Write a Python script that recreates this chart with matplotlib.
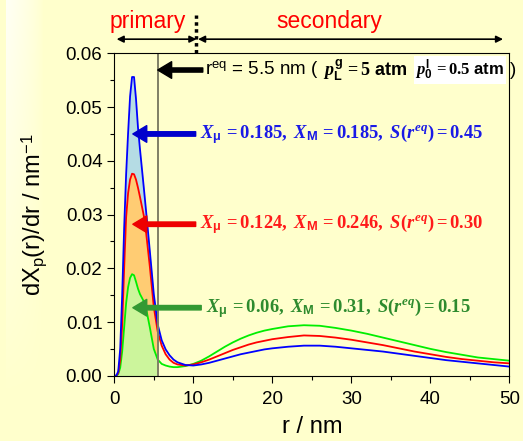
import numpy as np
import matplotlib
matplotlib.use("Agg")
import matplotlib.pyplot as plt
from matplotlib.ticker import MultipleLocator, FormatStrFormatter

# ---------------------------------------------------------------
# pore size distributions dX_p(r)/dr for three pressure cases
# ---------------------------------------------------------------
r_nm = [0, 0.25, 0.5, 0.75, 1.0, 1.25, 1.5, 1.75, 2.0, 2.25, 2.5, 2.75,
        3.0, 3.25, 3.5, 3.75, 4.0, 4.5, 5.0, 5.5, 6.0, 6.5, 7.0, 7.5, 8.0,
        9.0, 10, 11, 12, 13, 14, 15, 16, 17, 18, 19, 20, 22, 24, 26, 28,
        30, 32, 34, 36, 38, 40, 42, 44, 46, 48, 50]

dist_blue = [0, 0, 0.0008, 0.0050, 0.0150, 0.0275, 0.0375, 0.0452, 0.0520,
             0.0556, 0.0556, 0.0515, 0.0462, 0.0422, 0.0385, 0.0348, 0.0310,
             0.0232, 0.0152, 0.0095, 0.0066, 0.0049, 0.0038, 0.0030, 0.0025,
             0.0020, 0.0019, 0.0021, 0.0024, 0.0028, 0.0032, 0.0036, 0.0040,
             0.0043, 0.0046, 0.0049, 0.0051, 0.0054, 0.0056, 0.0056, 0.0054,
             0.0051, 0.0048, 0.0045, 0.0041, 0.0037, 0.0033, 0.0029, 0.0026,
             0.0023, 0.0020, 0.0017]

dist_red = [0, 0, 0.0005, 0.0030, 0.0095, 0.0200, 0.0295, 0.0340, 0.0365,
            0.0376, 0.0375, 0.0365, 0.0350, 0.0333, 0.0315, 0.0297, 0.0270,
            0.0203, 0.0128, 0.0082, 0.0056, 0.0040, 0.0030, 0.0024, 0.0021,
            0.0019, 0.0021, 0.0025, 0.0030, 0.0036, 0.0042, 0.0048, 0.0053,
            0.0058, 0.0062, 0.0065, 0.0068, 0.0072, 0.0075, 0.0074, 0.0071,
            0.0067, 0.0062, 0.0057, 0.0051, 0.0045, 0.0040, 0.0035, 0.0031,
            0.0028, 0.0025, 0.0023]

dist_green = [0, 0, 0.0003, 0.0015, 0.0045, 0.0090, 0.0135, 0.0165, 0.0182,
              0.0189, 0.0187, 0.0175, 0.0162, 0.0152, 0.0145, 0.0138, 0.0127,
              0.0090, 0.0050, 0.0030, 0.0022, 0.0019, 0.0017, 0.0016, 0.0016,
              0.0018, 0.0022, 0.0028, 0.0036, 0.0045, 0.0054, 0.0062, 0.0069,
              0.0075, 0.0080, 0.0084, 0.0087, 0.0092, 0.0094, 0.0093, 0.0089,
              0.0084, 0.0078, 0.0071, 0.0064, 0.0057, 0.0050, 0.0044, 0.0039,
              0.0034, 0.0031, 0.0028]

r_eq = 5.5
r_split = 10.4

labels = [
    r"$X_{\mathbf{\mu}}\mathrm{\,=0.185,\ }X_{\mathbf{M}}\mathrm{\,=0.185,\ }S\mathrm{(}r^{eq}\mathrm{)=0.45}$",
    r"$X_{\mathbf{\mu}}\mathrm{\,=0.124,\ }X_{\mathbf{M}}\mathrm{\,=0.246,\ }S\mathrm{(}r^{eq}\mathrm{)=0.30}$",
    r"$X_{\mathbf{\mu}}\mathrm{\,=0.06,\ }X_{\mathbf{M}}\mathrm{\,=0.31,\ }S\mathrm{(}r^{eq}\mathrm{)=0.15}$",
]

# ---------------------------------------------------------------
# fonts
# ---------------------------------------------------------------
plt.rcParams["font.family"] = ["Liberation Sans", "DejaVu Sans"]
plt.rcParams["mathtext.fontset"] = "custom"
plt.rcParams["mathtext.rm"] = "Liberation Serif:bold"
plt.rcParams["mathtext.it"] = "Liberation Serif:italic:bold"
plt.rcParams["mathtext.bf"] = "Liberation Sans:bold"
plt.rcParams["mathtext.sf"] = "Liberation Sans"

bg = "#FFFFCC"
fig = plt.figure(figsize=(5.23, 4.41), dpi=100, facecolor=bg)

# pale fade on the left border, whitest at the top
grad = fig.add_axes([6 / 523, 0, 38 / 523, 1], zorder=-5)
gy, gx = np.mgrid[0:1:200j, 0:1:40j]   # gy = 0 at the top row
alpha = np.clip(1.0 - 1.1 * gy, 0, 1) * np.clip(1 - gx, 0, 1) ** 0.7
img = np.ones((200, 40, 4))
img[..., 3] = alpha * 0.8
grad.imshow(img, aspect="auto", origin="upper", extent=[0, 1, 0, 1])
grad.axis("off")

ax = fig.add_axes([0.2185, 0.148, 0.7555, 0.731])
ax.set_facecolor(bg)

r = np.array(r_nm)
b = np.array(dist_blue)
rd = np.array(dist_red)
g = np.array(dist_green)
m = r <= r_eq

# shaded primary region
ax.fill_between(r[m], rd[m], b[m], color="#B5DCE4", lw=0)
ax.fill_between(r[m], g[m], rd[m], color="#FFCC73", lw=0)
ax.fill_between(r[m], 0, g[m], color="#CCF59C", lw=0)

ax.plot(r, g, color="#00EE00", lw=1.3)
ax.plot(r, rd, color="#FF0000", lw=1.3)
ax.plot(r, b, color="#0000FF", lw=1.3)

ax.axvline(r_eq, color="#7F7F66", lw=1.4)

ax.set_xlim(0, 50)
ax.set_ylim(0, 0.06)
ax.xaxis.set_major_locator(MultipleLocator(10))
ax.xaxis.set_minor_locator(MultipleLocator(5))
ax.yaxis.set_major_locator(MultipleLocator(0.01))
ax.yaxis.set_minor_locator(MultipleLocator(0.005))
ax.yaxis.set_major_formatter(FormatStrFormatter("%.2f"))
ax.tick_params(which="major", direction="out", length=5, width=0.8, labelsize=13.5)
ax.tick_params(axis="x", which="major", pad=6)
ax.tick_params(which="minor", direction="out", length=3, width=0.8)
for s in ax.spines.values():
    s.set_linewidth(0.8)

ax.set_xlabel("r / nm", fontsize=17, labelpad=6)
ax.set_ylabel(r"dX$_\mathsf{p}$(r)/dr / nm$^\mathsf{-1}$", fontsize=17, labelpad=12)

# arrows pointing at the peaks, with their labels
arrow_specs = [
    (0.0450, 10.3, "#0000CC", "#1A1AE6", 10.8),
    (0.0282, 10.3, "#EE0000", "#FF1A1A", 10.8),
    (0.01266, 11.0, "#339933", "#2E8B2E", 11.6),
]
for (yv, x_tail, ac, tc, x_txt), lab in zip(arrow_specs, labels):
    ax.annotate("", xy=(2.35, yv), xytext=(x_tail, yv),
                arrowprops=dict(facecolor=ac, edgecolor=ac, width=3.2,
                                headwidth=12, headlength=10, shrink=0))
    ax.text(x_txt, yv, lab, color=tc, fontsize=13.3, va="center", ha="left")

# r_eq pointer and pressure note
ax.annotate("", xy=(r_eq, 0.0569), xytext=(11.2, 0.0569),
            arrowprops=dict(facecolor="black", edgecolor="black", width=3,
                            headwidth=12, headlength=10, shrink=0))
ax.text(11.5, 0.0569, r"r$^\mathsf{eq}$ = 5.5 nm (", fontsize=13.5, va="center")
ax.text(26.4, 0.0569, r"$p_{\mathbf{L}}^{\mathbf{g}}\mathrm{\,=5}$ $\mathbf{atm}$",
        fontsize=13, va="center")
ax.text(38.1, 0.0569, r"$p_{\mathbf{0}}^{\mathbf{l}}\mathrm{\,=0.5}$ $\mathbf{atm}$",
        fontsize=12, va="center",
        bbox=dict(facecolor="white", edgecolor="none", pad=1.2))
ax.text(50.1, 0.0569, ")", fontsize=13.5, va="center", clip_on=False)

# primary / secondary regions above the frame
y_arr = 0.06264
ax.annotate("", xy=(0.3, y_arr), xytext=(r_split, y_arr), annotation_clip=False,
            arrowprops=dict(arrowstyle="<|-|>", color="black", lw=1.2,
                            mutation_scale=10, shrinkA=0, shrinkB=0))
ax.annotate("", xy=(r_split + 0.2, y_arr), xytext=(49.2, y_arr), annotation_clip=False,
            arrowprops=dict(arrowstyle="<|-|>", color="black", lw=1.2,
                            mutation_scale=10, shrinkA=0, shrinkB=0))
ax.plot([r_split, r_split], [0.06, 0.0671], color="black", lw=2.5, ls=(0, (1, 1)),
        clip_on=False)
ax.text(4.2, 0.0659, "primary", color="#FF0000", fontsize=16.5, ha="center", va="center")
ax.text(27.2, 0.0659, "secondary", color="#FF0000", fontsize=16.5, ha="center", va="center")

fig.savefig("out.png", dpi=100, facecolor=bg)
